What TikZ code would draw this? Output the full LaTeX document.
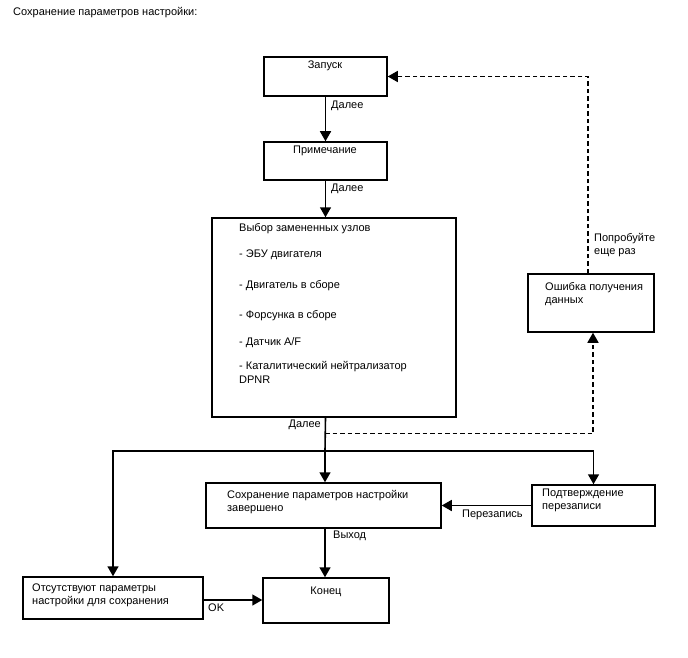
\documentclass[tikz,border=0pt]{standalone}
\usepackage{fontspec}
\setmainfont{Liberation Sans}
\usetikzlibrary{arrows.meta}
\begin{document}
\begin{tikzpicture}[x=1pt,y=-1pt,
  font=\fontsize{11}{13}\selectfont,
  box/.style={draw,line width=1.5pt,rectangle,inner sep=0pt},
  txt/.style={inner sep=0pt,align=left},
  ln/.style={line width=1.6pt},
  arr/.style={ln,-{Triangle[length=10pt,width=11pt]}},
  dsh/.style={line width=1.5pt,dash pattern=on 4.5pt off 3pt}
]
\useasboundingbox (0,0) rectangle (688,658);
\node[txt,anchor=west] (title) at (13,13) {Сохранение параметров настройки:};

% boxes
\node[box,minimum width=123pt,minimum height=39pt] (start) at (325.5,76.5) {};
\node[box,minimum width=123pt,minimum height=38pt] (note) at (325.5,161) {};
\node[box,minimum width=244pt,minimum height=199pt] (select) at (334,317.5) {};
\node[box,minimum width=126pt,minimum height=58pt] (error) at (591,303) {};
\node[box,minimum width=235pt,minimum height=45pt] (saved) at (323.5,505.5) {};
\node[box,minimum width=123pt,minimum height=41pt] (confirm) at (593.5,505.5) {};
\node[box,minimum width=180pt,minimum height=42pt] (none) at (113,598) {};
\node[box,minimum width=126pt,minimum height=45pt] (end) at (326,600.5) {};

% box texts
\node[txt] (tstart) at (325,66) {Запуск};
\node[txt] (tnote) at (325,151) {Примечание};
\node[txt,anchor=west] (s0) at (239,229) {Выбор замененных узлов};
\node[txt,anchor=west] (s1) at (239,255) {- ЭБУ двигателя};
\node[txt,anchor=west] (s2) at (239,286) {- Двигатель в сборе};
\node[txt,anchor=west] (s3) at (239,316) {- Форсунка в сборе};
\node[txt,anchor=west] (s4) at (239,343) {- Датчик A/F};
\node[txt,anchor=west] (s5) at (239,367) {- Каталитический нейтрализатор};
\node[txt,anchor=west] (s6) at (239,380) {DPNR};
\node[txt,anchor=west] (terr) at (545,294.5) {Ошибка получения\\данных};
\node[txt,anchor=west] (tsaved) at (227,502) {Сохранение параметров настройки\\завершено};
\node[txt,anchor=west] (tconf) at (542,500.5) {Подтверждение\\перезаписи};
\node[txt,anchor=west] (tnone) at (32,595) {Отсутствуют параметры\\настройки для сохранения};
\node[txt] (tend) at (326,592) {Конец};

% connector coordinates
\coordinate (d1) at (325,433.5);
\coordinate (j1) at (325,451);

% connectors
\draw[arr] (start.south) -- (note.north);
\draw[arr] (note.south) -- (note.south |- select.north);
\draw[ln] (note.south |- select.south) -- (j1);
\draw[arr] (j1) -- (j1 |- saved.north);
\draw[dsh,-{Triangle[length=10pt,width=11pt]}] (d1) -| ([xshift=2pt]error.south);
\draw[dsh,-{Triangle[length=10pt,width=11pt]}] ([xshift=-3pt]error.north) |- (start.east);
\draw[arr] (j1) -| (confirm.north);
\draw[arr] (j1) -| (none.north);
\draw[arr] (confirm.west) -- (saved.east);
\draw[arr] (j1 |- saved.south) -- (j1 |- end.north);
\draw[arr] ([yshift=-2pt]none.east) -- ([yshift=-2pt]none.east -| end.west);

% labels
\node[txt,anchor=west] (l1) at (331,106) {Далее};
\node[txt,anchor=west] (l2) at (331,189) {Далее};
\node[txt,anchor=east] (l3) at (321,425) {Далее};
\node[txt,anchor=west] (l4) at (333,536) {Выход};
\node[txt,anchor=west] (l5) at (462,515) {Перезапись};
\node[txt,anchor=west] (l6) at (208,608) {OK};
\node[txt,anchor=west] (l7) at (594,245) {Попробуйте\\еще раз};
\end{tikzpicture}
\end{document}
